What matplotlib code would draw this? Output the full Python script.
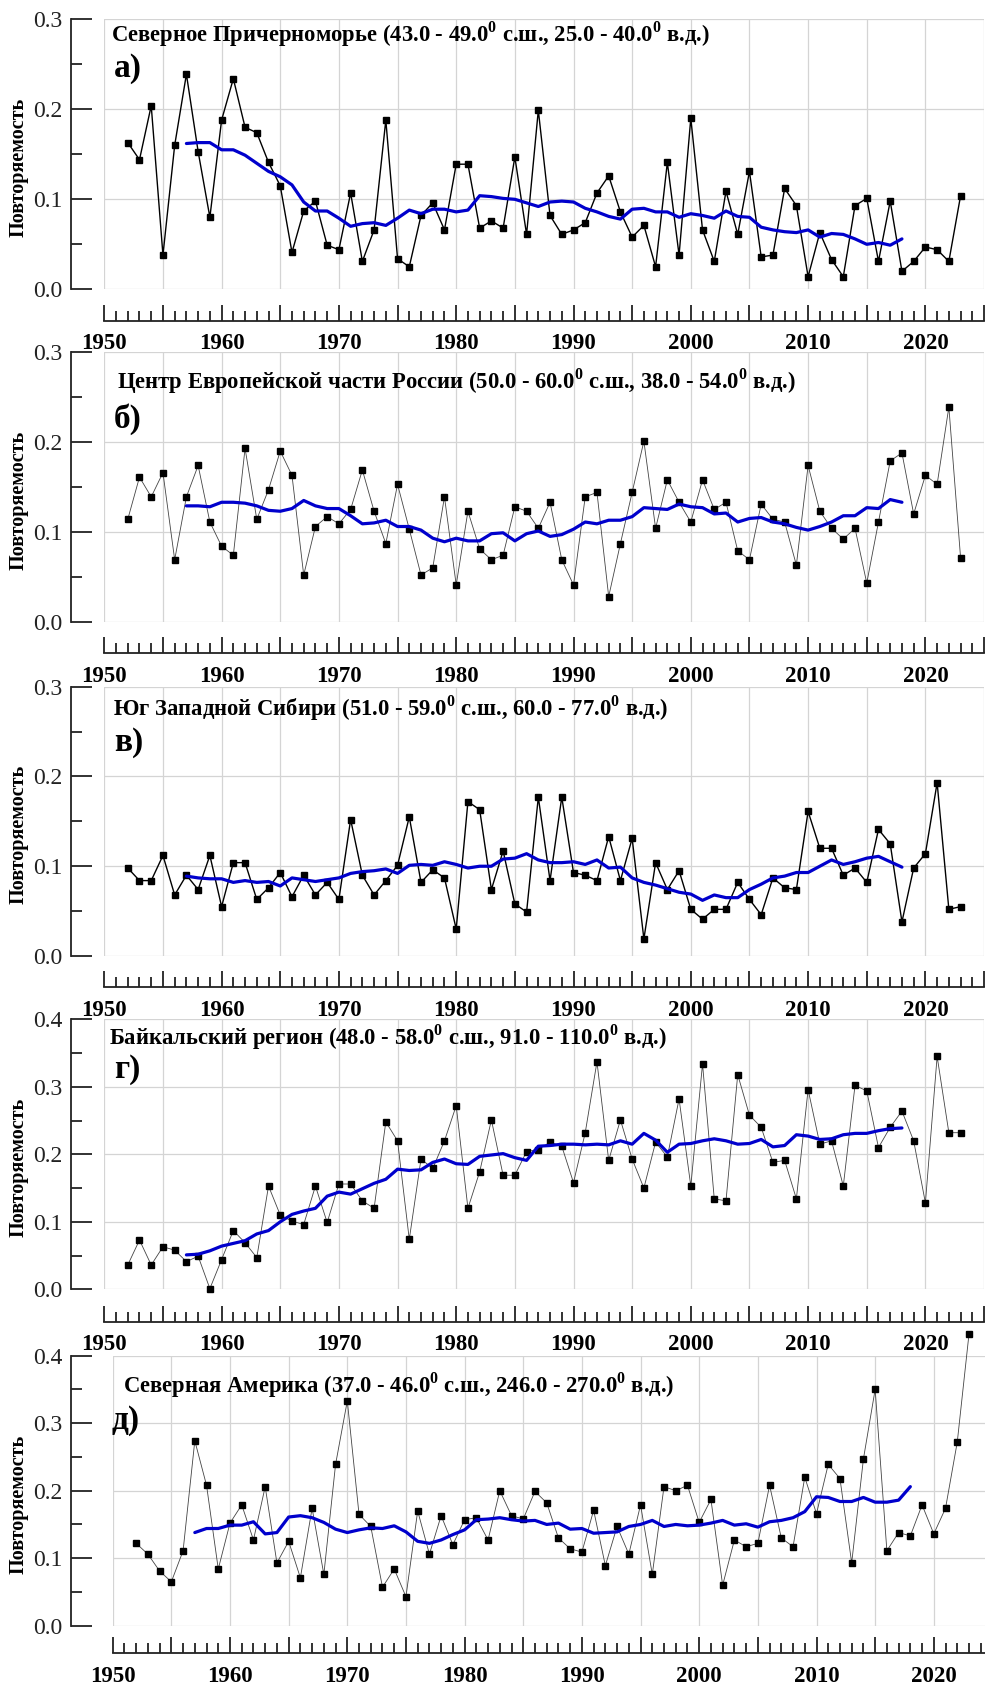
import matplotlib
matplotlib.use("Agg")
import matplotlib.pyplot as plt
from matplotlib.ticker import MultipleLocator, FixedLocator
import numpy as np

plt.rcParams['font.family'] = ['Liberation Serif', 'DejaVu Serif']
plt.rcParams['mathtext.fontset'] = 'custom'
plt.rcParams['mathtext.rm'] = 'Liberation Serif'
plt.rcParams['mathtext.bf'] = 'Liberation Serif:bold'

years = list(range(1952, 2024))
smooth_years = list(range(1957, 2019))

a_vals = [0.163, 0.144, 0.204, 0.038, 0.160, 0.239, 0.153, 0.080, 0.188, 0.234,
          0.180, 0.174, 0.141, 0.115, 0.041, 0.087, 0.098, 0.049, 0.044, 0.107,
          0.031, 0.066, 0.188, 0.034, 0.025, 0.082, 0.096, 0.066, 0.139, 0.139,
          0.068, 0.076, 0.068, 0.147, 0.061, 0.199, 0.082, 0.061, 0.066, 0.074,
          0.107, 0.126, 0.086, 0.058, 0.071, 0.025, 0.141, 0.038, 0.190, 0.066,
          0.031, 0.109, 0.061, 0.131, 0.036, 0.038, 0.112, 0.093, 0.014, 0.063,
          0.033, 0.014, 0.093, 0.101, 0.031, 0.098, 0.020, 0.031, 0.047, 0.044,
          0.031, 0.104]
a_smooth = [0.162, 0.163, 0.163, 0.155, 0.155, 0.149, 0.140, 0.131, 0.125, 0.116,
            0.097, 0.087, 0.087, 0.079, 0.070, 0.073, 0.074, 0.071, 0.079, 0.088,
            0.084, 0.089, 0.089, 0.086, 0.088, 0.104, 0.103, 0.101, 0.100, 0.096,
            0.092, 0.097, 0.098, 0.097, 0.090, 0.086, 0.081, 0.078, 0.089, 0.090,
            0.086, 0.086, 0.080, 0.084, 0.082, 0.079, 0.087, 0.081, 0.080, 0.069,
            0.066, 0.064, 0.063, 0.066, 0.058, 0.062, 0.061, 0.056, 0.050, 0.052,
            0.049, 0.056]

b_vals = [0.114, 0.161, 0.139, 0.166, 0.069, 0.139, 0.174, 0.111, 0.084, 0.074,
          0.193, 0.114, 0.147, 0.190, 0.163, 0.052, 0.106, 0.117, 0.109, 0.125,
          0.169, 0.123, 0.087, 0.153, 0.103, 0.052, 0.060, 0.139, 0.041, 0.123,
          0.081, 0.069, 0.074, 0.128, 0.123, 0.104, 0.133, 0.069, 0.041, 0.139,
          0.144, 0.028, 0.087, 0.144, 0.201, 0.104, 0.158, 0.133, 0.111, 0.158,
          0.125, 0.133, 0.079, 0.069, 0.131, 0.114, 0.111, 0.063, 0.174, 0.123,
          0.104, 0.092, 0.104, 0.043, 0.111, 0.179, 0.188, 0.120, 0.163, 0.153,
          0.239, 0.071]
b_smooth = [0.129, 0.129, 0.128, 0.133, 0.133, 0.132, 0.129, 0.124, 0.123, 0.126,
            0.135, 0.129, 0.126, 0.126, 0.118, 0.109, 0.110, 0.113, 0.106, 0.106,
            0.102, 0.093, 0.089, 0.093, 0.090, 0.090, 0.098, 0.099, 0.090, 0.098,
            0.101, 0.095, 0.097, 0.103, 0.111, 0.109, 0.113, 0.113, 0.117, 0.127,
            0.126, 0.125, 0.131, 0.128, 0.127, 0.120, 0.121, 0.111, 0.115, 0.116,
            0.111, 0.109, 0.105, 0.102, 0.106, 0.111, 0.118, 0.118, 0.127, 0.126,
            0.136, 0.133]

c_vals = [0.098, 0.084, 0.084, 0.112, 0.068, 0.090, 0.074, 0.112, 0.055, 0.104,
          0.104, 0.063, 0.076, 0.093, 0.066, 0.090, 0.068, 0.082, 0.063, 0.152,
          0.090, 0.068, 0.084, 0.101, 0.155, 0.082, 0.096, 0.087, 0.030, 0.172,
          0.163, 0.074, 0.117, 0.058, 0.049, 0.177, 0.084, 0.177, 0.093, 0.090,
          0.084, 0.133, 0.084, 0.131, 0.019, 0.104, 0.074, 0.095, 0.052, 0.041,
          0.052, 0.052, 0.082, 0.063, 0.046, 0.087, 0.076, 0.074, 0.161, 0.120,
          0.120, 0.090, 0.098, 0.082, 0.141, 0.125, 0.038, 0.098, 0.114, 0.193,
          0.052, 0.055]
c_smooth = [0.089, 0.087, 0.086, 0.086, 0.082, 0.084, 0.082, 0.083, 0.078, 0.087,
            0.085, 0.083, 0.085, 0.087, 0.092, 0.094, 0.095, 0.097, 0.092, 0.101,
            0.102, 0.101, 0.105, 0.102, 0.098, 0.100, 0.100, 0.108, 0.109, 0.114,
            0.107, 0.104, 0.104, 0.105, 0.102, 0.107, 0.098, 0.099, 0.087, 0.082,
            0.079, 0.075, 0.071, 0.069, 0.062, 0.068, 0.065, 0.065, 0.074, 0.080,
            0.087, 0.089, 0.093, 0.093, 0.100, 0.107, 0.102, 0.105, 0.109, 0.111,
            0.105, 0.099]

d_vals = [0.036, 0.073, 0.036, 0.063, 0.058, 0.041, 0.049, 0.001, 0.044, 0.087,
          0.069, 0.047, 0.153, 0.110, 0.101, 0.096, 0.153, 0.099, 0.156, 0.156,
          0.131, 0.120, 0.248, 0.220, 0.074, 0.193, 0.179, 0.220, 0.272, 0.120,
          0.174, 0.251, 0.169, 0.169, 0.204, 0.207, 0.218, 0.212, 0.158, 0.232,
          0.337, 0.191, 0.251, 0.193, 0.150, 0.218, 0.196, 0.282, 0.153, 0.334,
          0.134, 0.131, 0.318, 0.258, 0.240, 0.188, 0.191, 0.134, 0.296, 0.215,
          0.220, 0.153, 0.302, 0.294, 0.210, 0.240, 0.264, 0.220, 0.128, 0.345,
          0.232, 0.232]
d_smooth = [0.051, 0.052, 0.057, 0.064, 0.068, 0.072, 0.082, 0.087, 0.100, 0.111,
            0.116, 0.120, 0.138, 0.144, 0.141, 0.149, 0.157, 0.163, 0.178, 0.176,
            0.177, 0.188, 0.193, 0.186, 0.185, 0.197, 0.199, 0.201, 0.195, 0.191,
            0.212, 0.213, 0.215, 0.215, 0.214, 0.215, 0.214, 0.220, 0.215, 0.231,
            0.221, 0.203, 0.215, 0.216, 0.220, 0.223, 0.220, 0.215, 0.216, 0.222,
            0.211, 0.213, 0.229, 0.227, 0.222, 0.223, 0.229, 0.231, 0.231, 0.235,
            0.238, 0.239]

e_vals = [0.122, 0.106, 0.081, 0.065, 0.111, 0.274, 0.208, 0.084, 0.152, 0.179,
          0.127, 0.206, 0.093, 0.125, 0.071, 0.174, 0.076, 0.239, 0.333, 0.165,
          0.147, 0.057, 0.084, 0.043, 0.170, 0.106, 0.163, 0.120, 0.157, 0.160,
          0.127, 0.200, 0.163, 0.158, 0.199, 0.182, 0.130, 0.114, 0.109, 0.171,
          0.089, 0.147, 0.106, 0.179, 0.076, 0.206, 0.200, 0.208, 0.153, 0.187,
          0.060, 0.127, 0.117, 0.122, 0.208, 0.130, 0.117, 0.220, 0.166, 0.239,
          0.218, 0.093, 0.247, 0.350, 0.111, 0.138, 0.133, 0.179, 0.136, 0.174,
          0.272, 0.432]
e_smooth = [0.138, 0.144, 0.144, 0.149, 0.149, 0.154, 0.136, 0.138, 0.161, 0.163,
            0.160, 0.153, 0.143, 0.138, 0.142, 0.145, 0.144, 0.148, 0.139, 0.125,
            0.122, 0.127, 0.135, 0.142, 0.157, 0.158, 0.160, 0.157, 0.155, 0.156,
            0.150, 0.152, 0.143, 0.144, 0.137, 0.138, 0.139, 0.147, 0.150, 0.156,
            0.147, 0.150, 0.148, 0.149, 0.152, 0.156, 0.149, 0.151, 0.146, 0.154,
            0.156, 0.160, 0.169, 0.191, 0.190, 0.184, 0.184, 0.190, 0.183, 0.183,
            0.186, 0.206]

titles = [
    "Северное Причерноморье (43.0 - 49.0$^{\\mathbf{0}}$ с.ш., 25.0 - 40.0$^{\\mathbf{0}}$ в.д.)",
    "Центр Европейской части России (50.0 - 60.0$^{\\mathbf{0}}$ с.ш., 38.0 - 54.0$^{\\mathbf{0}}$ в.д.)",
    "Юг Западной Сибири (51.0 - 59.0$^{\\mathbf{0}}$ с.ш., 60.0 - 77.0$^{\\mathbf{0}}$ в.д.)",
    "Байкальский регион (48.0 - 58.0$^{\\mathbf{0}}$ с.ш., 91.0 - 110.0$^{\\mathbf{0}}$ в.д.)",
    "Северная Америка (37.0 - 46.0$^{\\mathbf{0}}$ с.ш., 246.0 - 270.0$^{\\mathbf{0}}$ в.д.)",
]
panel_labels = ["а)", "б)", "в)", "г)", "д)"]
ylabel = "Повторяемость"

W, H = 985, 1685
fig = plt.figure(figsize=(W / 100, H / 100), dpi=100)

layout = [
    dict(left=104.3, top=19.3, bottom=289.3, loff=33.3, boff=31.4, tx=111, ty=41.7, lx=114, ly=77, ymax=0.3, lw=1.0, lc='black'),
    dict(left=104.3, top=352.3, bottom=621.7, loff=33.3, boff=31.3, tx=117.3, ty=388, lx=114, ly=428, ymax=0.3, lw=0.6, lc='#444444'),
    dict(left=104.3, top=686.7, bottom=956.0, loff=33.3, boff=31.0, tx=113, ty=715, lx=114, ly=751, ymax=0.3, lw=1.0, lc='black'),
    dict(left=104.3, top=1019.3, bottom=1289.3, loff=33.3, boff=32.4, tx=109.3, ty=1044.3, lx=114, ly=1078, ymax=0.4, lw=0.6, lc='#444444'),
    dict(left=112.7, top=1355.7, bottom=1625.7, loff=41.7, boff=27.6, tx=122.7, ty=1392, lx=112, ly=1429, ymax=0.4, lw=0.6, lc='#444444'),
]
series = [(a_vals, a_smooth), (b_vals, b_smooth), (c_vals, c_smooth), (d_vals, d_smooth), (e_vals, e_smooth)]

px_per_year = 11.73
for i, (L, (vals, sm)) in enumerate(zip(layout, series)):
    width_px = 75 * px_per_year
    ax = fig.add_axes([L['left'] / W, 1 - L['bottom'] / H, width_px / W, (L['bottom'] - L['top']) / H])
    ax.set_xlim(1950, 2025)
    ax.set_ylim(0, L['ymax'])
    ax.plot(years, vals, color=L['lc'], lw=L['lw'], marker='s', ms=4.8,
            mfc='black', mec='black', zorder=3, clip_on=False)
    ax.plot(smooth_years, sm, color='#0000CC', lw=2.3, zorder=4, solid_capstyle='round')

    ax.xaxis.set_major_locator(FixedLocator(list(range(1950, 2026, 5))))
    ax.xaxis.set_minor_locator(MultipleLocator(1))
    ax.set_xticklabels([str(y) if y % 10 == 0 else '' for y in range(1950, 2026, 5)])
    ax.yaxis.set_major_locator(MultipleLocator(0.1))
    ax.yaxis.set_minor_locator(MultipleLocator(0.05))
    ax.yaxis.set_major_formatter(plt.FuncFormatter(lambda v, p: f"{v:.1f}"))

    ax.grid(True, which='major', color='#d4d4d4', lw=0.9, zorder=0)
    ax.set_axisbelow(True)

    for s in ['top', 'right']:
        ax.spines[s].set_visible(False)
    ax.spines['left'].set_position(('outward', L['loff'] * 0.72))
    ax.spines['bottom'].set_position(('outward', L['boff'] * 0.72))
    for s in ['left', 'bottom']:
        ax.spines[s].set_color('#222222')
        ax.spines[s].set_linewidth(1.3)

    ax.tick_params(axis='y', which='major', direction='in', length=15, width=1.3, color='#222222',
                   labelsize=17, pad=6, labelcolor='#222222')
    ax.tick_params(axis='y', which='minor', direction='in', length=8, width=1.3, color='#222222')
    ax.tick_params(axis='x', which='major', direction='in', length=11.5, width=1.3, color='#222222',
                   labelsize=16.5, pad=9)
    ax.tick_params(axis='x', which='minor', direction='in', length=7.5, width=1.3, color='#222222')
    for t in ax.get_xticklabels():
        t.set_fontweight('bold')

    ax.set_ylabel(ylabel, fontsize=14.5, fontweight='bold')
    ax.yaxis.set_label_coords(-(L['left'] - 29) / width_px, 0.45)

    fig.text(L['tx'] / W, 1 - L['ty'] / H, titles[i], fontsize=16.3, fontweight='bold',
             va='baseline', ha='left')
    fig.text(L['lx'] / W, 1 - L['ly'] / H, panel_labels[i], fontsize=24, fontweight='bold',
             va='baseline', ha='left')

fig.savefig("out.png", dpi=100)
